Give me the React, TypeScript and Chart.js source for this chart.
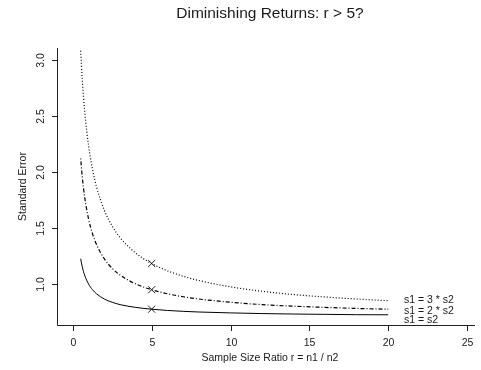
import React, { useEffect, useRef } from "react";
import { Chart, registerables } from "chart.js";

Chart.register(...registerables);

// ---- data ----
const ratios = [0.5, 0.6, 0.75, 1, 1.25, 1.5, 2, 2.5, 3, 4, 5, 6, 7, 8, 10, 12, 14, 16, 18, 20];
const seEqual = [1.225, 1.155, 1.08, 1.0, 0.949, 0.913, 0.866, 0.837, 0.816, 0.791, 0.775, 0.764, 0.756, 0.75, 0.742, 0.736, 0.732, 0.729, 0.726, 0.725];
const seDouble = [2.121, 1.958, 1.78, 1.581, 1.449, 1.354, 1.225, 1.14, 1.08, 1.0, 0.949, 0.913, 0.886, 0.866, 0.837, 0.816, 0.802, 0.791, 0.782, 0.775];
const seTriple = [3.082, 2.828, 2.55, 2.236, 2.025, 1.871, 1.658, 1.517, 1.414, 1.275, 1.183, 1.118, 1.069, 1.031, 0.975, 0.935, 0.906, 0.884, 0.866, 0.851];

const markerRatio = 5;
const markerSE = [0.775, 0.949, 1.183];

const xTicks = [0, 5, 10, 15, 20, 25];
const yTicks = [1.0, 1.5, 2.0, 2.5, 3.0];
const yTickLabels = ["1.0", "1.5", "2.0", "2.5", "3.0"];

const curveLabels = ["s1 = 3 * s2", "s1 = 2 * s2", "s1 = s2"];
const curveLabelX = 21;
const curveLabelY = [0.857, 0.759, 0.674];

const titleText = "Diminishing Returns: r > 5?";
const xTitleText = "Sample Size Ratio r = n1 / n2";
const yTitleText = "Standard Error";

const X_MIN = -1;
const X_MAX = 25.5;
const Y_MIN = 0.634;
const Y_MAX = 3.107;

const FONT = "'Liberation Sans', Arial, Helvetica, sans-serif";

const toPoints = (ys: number[]) => ratios.map((r, i) => ({ x: r, y: ys[i] }));

const axesPlugin = {
  id: "rAxes",
  afterDraw(chart: any) {
    const ctx = chart.ctx as CanvasRenderingContext2D;
    const xs = chart.scales.x;
    const ys = chart.scales.y;
    const area = chart.chartArea;
    ctx.save();
    ctx.strokeStyle = "#222";
    ctx.fillStyle = "#1a1a1a";
    ctx.lineWidth = 1;

    // L-shaped box
    ctx.beginPath();
    ctx.moveTo(area.left + 0.5, area.top);
    ctx.lineTo(area.left + 0.5, area.bottom + 0.5);
    ctx.lineTo(area.right, area.bottom + 0.5);
    ctx.stroke();

    // x ticks
    ctx.font = `10.5px ${FONT}`;
    ctx.textAlign = "center";
    ctx.textBaseline = "middle";
    xTicks.forEach((t) => {
      const px = Math.round(xs.getPixelForValue(t)) + 0.5;
      ctx.beginPath();
      ctx.moveTo(px, area.bottom);
      ctx.lineTo(px, area.bottom + 6);
      ctx.stroke();
      ctx.fillText(String(t), px, area.bottom + 18);
    });

    // y ticks (rotated labels)
    yTicks.forEach((t, i) => {
      const py = Math.round(ys.getPixelForValue(t)) + 0.5;
      ctx.beginPath();
      ctx.moveTo(area.left - 5, py);
      ctx.lineTo(area.left, py);
      ctx.stroke();
      ctx.save();
      ctx.translate(area.left - 16, py);
      ctx.rotate(-Math.PI / 2);
      ctx.fillText(yTickLabels[i], 0, 0);
      ctx.restore();
    });

    // axis titles
    const midX = xs.getPixelForValue((X_MIN + 26) / 2);
    ctx.fillText(xTitleText, midX, area.bottom + 33);
    ctx.save();
    ctx.translate(23, (area.top + area.bottom) / 2);
    ctx.rotate(-Math.PI / 2);
    ctx.fillText(yTitleText, 0, 0);
    ctx.restore();

    // main title
    ctx.font = `15.5px ${FONT}`;
    ctx.fillText(titleText, midX, 14);

    // curve labels
    ctx.font = `10.5px ${FONT}`;
    ctx.textAlign = "left";
    curveLabels.forEach((lab, i) => {
      ctx.fillText(lab, xs.getPixelForValue(curveLabelX), ys.getPixelForValue(curveLabelY[i]));
    });
    ctx.restore();
  },
};

export default function App() {
  const ref = useRef<HTMLCanvasElement | null>(null);
  useEffect(() => {
    document.body.style.margin = "0";
    if (!ref.current) return;
    const chart = new Chart(ref.current, {
      type: "line",
      data: {
        datasets: [
          {
            label: "s1 = s2",
            data: toPoints(seEqual),
            borderColor: "#000",
            borderWidth: 1,
            pointRadius: 0,
            cubicInterpolationMode: "monotone",
            fill: false,
          },
          {
            label: "s1 = 2 * s2",
            data: toPoints(seDouble),
            borderColor: "#000",
            borderWidth: 1.2,
            borderDash: [1, 2, 4, 2],
            pointRadius: 0,
            cubicInterpolationMode: "monotone",
            fill: false,
          },
          {
            label: "s1 = 3 * s2",
            data: toPoints(seTriple),
            borderColor: "#000",
            borderWidth: 1.2,
            borderDash: [1, 2],
            pointRadius: 0,
            cubicInterpolationMode: "monotone",
            fill: false,
          },
          {
            type: "scatter",
            label: "r = 5",
            data: markerSE.map((v) => ({ x: markerRatio, y: v })),
            pointStyle: "crossRot",
            pointRadius: 5,
            borderColor: "#222",
            backgroundColor: "#222",
            borderWidth: 1,
            showLine: false,
          } as any,
        ],
      },
      options: {
        animation: false,
        responsive: false,
        events: [],
        layout: { padding: { left: 57, top: 48, right: 0, bottom: 45 } },
        plugins: { legend: { display: false }, tooltip: { enabled: false }, title: { display: false } },
        scales: {
          x: { type: "linear", min: X_MIN, max: X_MAX, display: false },
          y: { type: "linear", min: Y_MIN, max: Y_MAX, display: false },
        },
      },
      plugins: [axesPlugin],
    });
    return () => chart.destroy();
  }, []);
  return (
    <div style={{ width: 481, height: 370, background: "#fff" }}>
      <canvas ref={ref} width={481} height={370} style={{ display: "block" }} />
    </div>
  );
}
